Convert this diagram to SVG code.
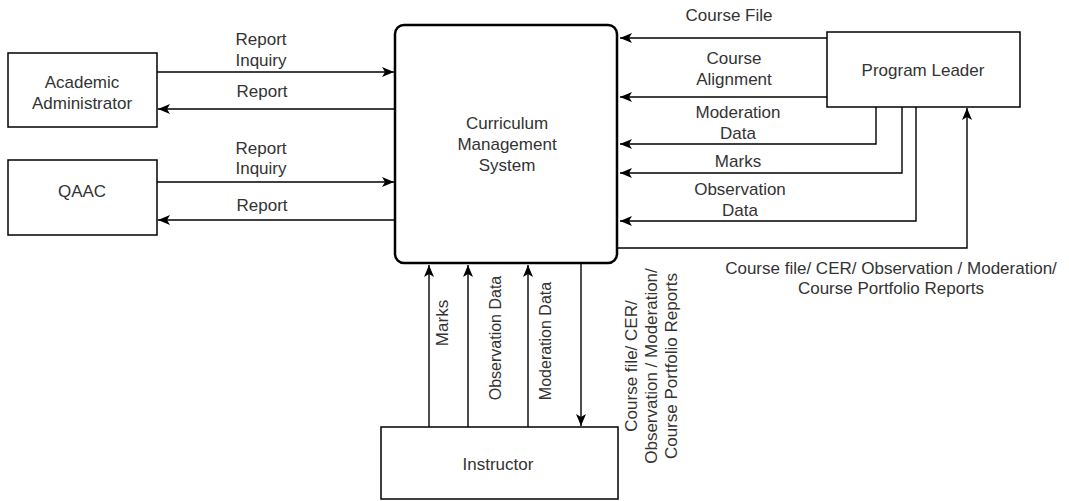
<svg xmlns="http://www.w3.org/2000/svg" width="1069" height="501" viewBox="0 0 1069 501">
<defs>
<style>
.box{fill:#fff;stroke:#000;stroke-width:1.5}
.main{fill:#fff;stroke:#000;stroke-width:2.5}
.t{font-family:"Liberation Sans",Arial,sans-serif;font-size:17px;fill:#333;text-anchor:middle;dominant-baseline:central}
.s{font-size:16px}
.c{fill:none;stroke:#000;stroke-width:1.4;marker-end:url(#ah)}
</style>
<marker id="ah" markerUnits="userSpaceOnUse" markerWidth="12" markerHeight="10" viewBox="0 0 12 10" refX="12" refY="5" orient="auto">
<path d="M0,0 L12,5 L0,10 L3,5 Z" fill="#000"/>
</marker>
</defs>
<rect width="1069" height="501" fill="#fff"/>
<g id="connectors">
<path class="c" d="M157,72 H394"/>
<path class="c" d="M395,109 H158"/>
<path class="c" d="M157,182 H394"/>
<path class="c" d="M395,220 H158"/>
<path class="c" d="M827,38 H620"/>
<path class="c" d="M827,97 H620"/>
<path class="c" d="M876,107 V144 H620"/>
<path class="c" d="M902,107 V173 H620"/>
<path class="c" d="M916,107 V221 H620"/>
<path class="c" d="M617,248 H967 V108"/>
<path class="c" d="M429,427 V265"/>
<path class="c" d="M468,427 V265"/>
<path class="c" d="M528,427 V265"/>
<path class="c" d="M581,263 V426"/>
<text class="t" x="261" y="39">Report</text>
<text class="t" x="261" y="60">Inquiry</text>
<text class="t" x="262" y="91">Report</text>
<text class="t" x="261" y="148">Report</text>
<text class="t" x="261" y="168">Inquiry</text>
<text class="t" x="262" y="205">Report</text>
<text class="t" x="729" y="15">Course File</text>
<text class="t" x="734" y="58">Course</text>
<text class="t" x="734" y="79">Alignment</text>
<text class="t" x="738" y="112">Moderation</text>
<text class="t" x="738" y="133">Data</text>
<text class="t" x="738" y="161">Marks</text>
<text class="t" x="740" y="189">Observation</text>
<text class="t" x="740" y="210">Data</text>
<text class="t" x="891" y="268">Course file/ CER/ Observation / Moderation/</text>
<text class="t" x="891" y="288">Course Portfolio Reports</text>
<text class="t" transform="translate(442,323) rotate(-90)">Marks</text>
<text class="t s" transform="translate(495,338) rotate(-90)">Observation Data</text>
<text class="t s" transform="translate(545,341) rotate(-90)">Moderation Data</text>
<text class="t" transform="translate(631,366) rotate(-90)">Course file/ CER/</text>
<text class="t" transform="translate(651,366) rotate(-90)">Observation / Moderation/</text>
<text class="t" transform="translate(671,366) rotate(-90)">Course Portfolio Reports</text>
</g>
<g id="academic-administrator">
<rect class="box" x="8" y="53" width="149" height="74"/>
<text class="t" x="82" y="82">Academic</text>
<text class="t" x="82" y="103">Administrator</text>
</g>
<g id="qaac">
<rect class="box" x="8" y="160" width="149" height="75"/>
<text class="t" x="82" y="191">QAAC</text>
</g>
<g id="cms">
<rect class="main" x="395" y="25" width="222" height="238" rx="9" ry="9"/>
<text class="t" x="507" y="123">Curriculum</text>
<text class="t" x="507" y="144">Management</text>
<text class="t" x="507" y="165">System</text>
</g>
<g id="program-leader">
<rect class="box" x="827" y="32" width="193" height="75"/>
<text class="t" x="923" y="70">Program Leader</text>
</g>
<g id="instructor">
<rect class="box" x="381" y="427" width="237" height="72"/>
<text class="t" x="498" y="464">Instructor</text>
</g>
</svg>
